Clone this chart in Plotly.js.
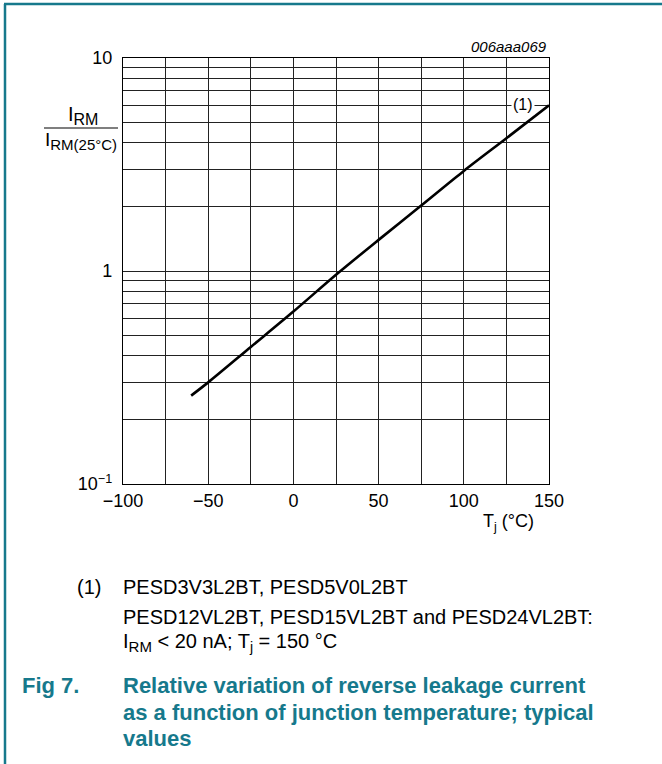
<!DOCTYPE html>
<html>
<head>
<meta charset="utf-8">
<script src="https://cdn.plot.ly/plotly-3.0.1.min.js"></script>
<style>html,body{margin:0;padding:0;background:#fff;}#chart{width:662px;height:764px;}</style>
</head>
<body>
<div id="chart"></div>
<script>
// Data
const temperature = [-60, -50, -25, 0, 25, 50, 75, 100, 125, 150];
const ratioIRM = [0.26, 0.30, 0.44, 0.645, 0.96, 1.40, 2.03, 2.95, 4.2, 6.0];
const xTickVals = [-100, -50, 0, 50, 100, 150];
const yTickVals = [0.1, 1, 10];
const yTickText = ['10<sup>\u22121</sup>', '1', '10'];
const yMinorVals = [0.2,0.3,0.4,0.5,0.6,0.7,0.8,0.9,2,3,4,5,6,7,8,9];

const W = 662, H = 764;
const M = {l: 123, r: 113, t: 58, b: 280};
const PW = W - M.l - M.r, PH = H - M.t - M.b;
const px = x => (x - M.l) / PW;
const py = y => (H - M.b - y) / PH;

const FONT = 'Liberation Sans, Arial, sans-serif';
const TEAL = '#16798c';

const trace = {
  x: temperature, y: ratioIRM, type: 'scatter', mode: 'lines',
  line: {color: '#000', width: 2.6, shape: 'spline', smoothing: 0.8}, hoverinfo: 'skip'
};

const txt = (x, y, text, opts) => Object.assign({
  xref: 'paper', yref: 'paper', x: px(x), y: py(y), text: text,
  showarrow: false, xanchor: 'left', yanchor: 'middle',
  font: {family: FONT, size: 20, color: '#000'}
}, opts || {});

const subStyle = s => '<sub><span style="font-size:' + s + 'px">';

const annotations = [
  txt(549, 46, '<i>006aaa069</i>', {xanchor: 'right', font: {family: FONT, size: 15, color: '#000'}}),
  txt(523, 104, '(1)', {xanchor: 'center', bgcolor: '#fff', borderpad: 1, font: {family: FONT, size: 16, color: '#000'}}),
  txt(83, 116, 'I' + subStyle(16) + 'RM</span></sub>', {xanchor: 'center', font: {family: FONT, size: 20, color: '#000'}}),
  txt(81, 141, 'I' + subStyle(15) + 'RM(25°C)</span></sub>', {xanchor: 'center', font: {family: FONT, size: 19, color: '#000'}}),
  txt(508, 522, 'T<sub>j</sub> (°C)', {xanchor: 'center', font: {family: FONT, size: 18, color: '#000'}}),
  txt(75, 587, '(1)'),
  txt(121, 587, 'PESD3V3L2BT, PESD5V0L2BT'),
  txt(121, 617, 'PESD12VL2BT, PESD15VL2BT and PESD24VL2BT:'),
  txt(121, 642, 'I' + subStyle(15) + 'RM</span></sub> &lt; 20 nA; T<sub>j</sub> = 150 °C'),
  txt(20, 685, '<b>Fig 7.</b>', {font: {family: FONT, size: 22, color: TEAL}}),
  txt(121, 685, '<b>Relative variation of reverse leakage current</b>', {font: {family: FONT, size: 22, color: TEAL}}),
  txt(121, 712, '<b>as a function of junction temperature; typical</b>', {font: {family: FONT, size: 22, color: TEAL}}),
  txt(121, 738, '<b>values</b>', {font: {family: FONT, size: 22, color: TEAL}})
];

const shapes = [
  {type: 'line', xref: 'paper', yref: 'paper', x0: px(44), x1: px(118), y0: py(128), y1: py(128), line: {color: '#000', width: 1.2}},
  {type: 'line', xref: 'paper', yref: 'paper', x0: px(5), x1: px(5), y0: py(764), y1: py(4), line: {color: TEAL, width: 2.5}},
  {type: 'line', xref: 'paper', yref: 'paper', x0: px(4), x1: px(662), y0: py(4), y1: py(4), line: {color: TEAL, width: 2.5}}
];

const layout = {
  width: W, height: H, margin: M, showlegend: false,
  paper_bgcolor: '#fff', plot_bgcolor: '#fff',
  font: {family: FONT, size: 18, color: '#000'},
  xaxis: {
    range: [-100, 150], tickmode: 'array', tickvals: xTickVals,
    ticks: '', showgrid: true, gridcolor: '#222', gridwidth: 1,
    minor: {dtick: 25, tick0: -100, showgrid: true, gridcolor: '#222', gridwidth: 1, ticks: ''},
    showline: true, mirror: true, linecolor: '#000', linewidth: 1.2,
    zeroline: false, tickfont: {family: FONT, size: 18, color: '#000'}
  },
  yaxis: {
    type: 'log', range: [-1, 1], tickmode: 'array', tickvals: yTickVals, ticktext: yTickText,
    ticks: '', showgrid: true, gridcolor: '#222', gridwidth: 1,
    minor: {tickmode: 'array', tickvals: yMinorVals, showgrid: true, gridcolor: '#222', gridwidth: 1, ticks: ''},
    showline: true, mirror: true, linecolor: '#000', linewidth: 1.2,
    zeroline: false, ticklabelstandoff: 6, tickfont: {family: FONT, size: 18, color: '#000'}
  },
  annotations: annotations,
  shapes: shapes
};

Plotly.newPlot('chart', [trace], layout, {staticPlot: true, displayModeBar: false});
</script>
</body>
</html>
